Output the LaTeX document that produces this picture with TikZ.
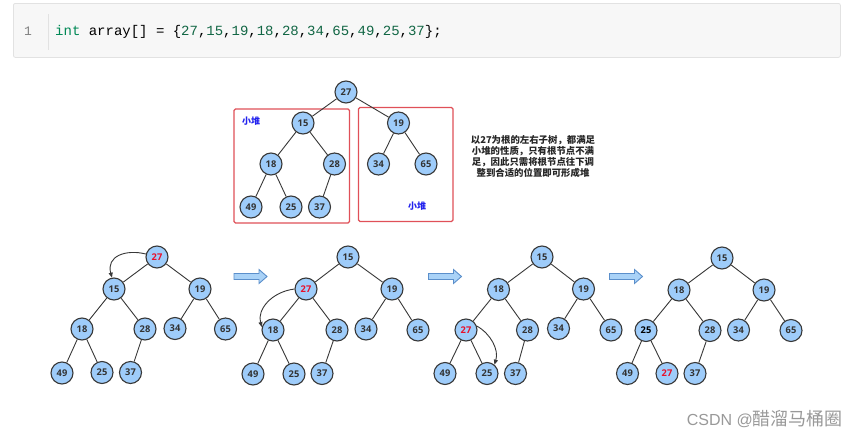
\documentclass[tikz,border=0pt]{standalone}
\usepackage{fontspec}
\setmainfont{Open Sans}
\newfontfamily\cjk{Noto Sans CJK SC}
\newfontfamily\codefont{Liberation Mono}
\newfontfamily\wmfont{Liberation Sans}
\usetikzlibrary{arrows.meta}
\definecolor{nodefill}{HTML}{9ECCFA}
\definecolor{nodeline}{HTML}{383838}
\definecolor{numtxt}{HTML}{333333}
\definecolor{redtxt}{HTML}{E8102A}
\definecolor{boxred}{HTML}{E05058}
\definecolor{lblblue}{HTML}{2222EE}
\definecolor{arrfill}{HTML}{A9D2F7}
\definecolor{arrline}{HTML}{5B8FCB}
\definecolor{codebg}{HTML}{F7F7F7}
\definecolor{codeline}{HTML}{E2E2E2}
\definecolor{kwgreen}{HTML}{008855}
\definecolor{numgreen}{HTML}{116644}
\tikzset{
  nd/.style={circle,draw=nodeline,line width=1.1pt,fill=nodefill,minimum size=22pt,inner sep=0pt,
    font=\fontsize{9.3}{9.3}\selectfont\bfseries,text=numtxt},
  rd/.style={nd,text=redtxt},
  bk/.style={nd,text=black},
  ed/.style={draw=nodeline,line width=0.9pt},
  cur/.style={draw=nodeline,line width=0.9pt,-{Triangle[length=5pt,width=4pt]}},
  redbox/.style={draw=boxred,line width=1.2pt,rounded corners=1.5pt},
  lbl/.style={text=lblblue,font=\cjk\fontsize{9}{9}\selectfont\bfseries},
  blockarr/.style={draw=arrline,fill=arrfill,line width=0.9pt,line join=miter},
}
\begin{document}
\begin{tikzpicture}[x=1pt,y=-1pt]
\useasboundingbox[fill=white] (0,0) rectangle (861,439);
% code box
\node[draw=codeline,fill=codebg,rounded corners=2pt,minimum width=827pt,minimum height=54pt,anchor=north west,line width=0.8pt] (codebox) at (13,3) {};
\node[text=gray,font=\codefont\fontsize{13}{13}\selectfont] (ln) at (28,31.5) {1};
\coordinate (vl1) at (48,14);
\coordinate (vl2) at (48,50);
\draw[codeline,line width=0.8pt] (vl1) -- (vl2);
\node[anchor=west,inner sep=0pt,font=\codefont\fontsize{14}{14}\selectfont] (code) at (55,31.5)
 {\textcolor{kwgreen}{int} array[] = \{\textcolor{numgreen}{27},\textcolor{numgreen}{15},\textcolor{numgreen}{19},\textcolor{numgreen}{18},\textcolor{numgreen}{28},\textcolor{numgreen}{34},\textcolor{numgreen}{65},\textcolor{numgreen}{49},\textcolor{numgreen}{25},\textcolor{numgreen}{37}\};};

% top tree with boxes
\draw[redbox] (234,109) rectangle (349.5,223);
\draw[redbox] (358.5,107.5) rectangle (453,221.5);
\node[lbl] (l1) at (251,121.5) {小堆};
\node[lbl] (l2) at (417,206.5) {小堆};
\node[nd] (a1) at (346,92) {27};
\node[nd] (a2) at (303,123) {15};
\node[nd] (a3) at (398.5,123) {19};
\node[nd] (a4) at (271,164) {18};
\node[nd] (a5) at (334.5,164) {28};
\node[nd] (a6) at (378.5,164) {34};
\node[nd] (a7) at (426,164) {65};
\node[nd] (a8) at (251,207) {49};
\node[nd] (a9) at (291,207) {25};
\node[nd] (a10) at (319.5,207) {37};
\node[align=center,font=\cjk\fontsize{9.4}{11.3}\selectfont\bfseries,text=black!85] (note) at (533,156.5)
 {以27为根的左右子树，都满足\\小堆的性质，只有根节点不满\\足，因此只需将根节点往下调\\整到合适的位置即可形成堆};

% tree b
\node[rd] (b1) at (157,257) {27};
\node[nd] (b2) at (114,289) {15};
\node[nd] (b3) at (200,289) {19};
\node[nd] (b4) at (82,329) {18};
\node[nd] (b5) at (145,329) {28};
\node[nd] (b6) at (175,328.5) {34};
\node[nd] (b7) at (225.5,329) {65};
\node[nd] (b8) at (62,373) {49};
\node[nd] (b9) at (102,372.5) {25};
\node[nd] (b10) at (130.5,372.5) {37};
% tree c
\node[nd] (c1) at (348,257) {15};
\node[rd] (c2) at (306,289) {27};
\node[nd] (c3) at (392,289) {19};
\node[nd] (c4) at (273,330) {18};
\node[nd] (c5) at (337,330) {28};
\node[nd] (c6) at (366,329) {34};
\node[nd] (c7) at (418,330) {65};
\node[nd] (c8) at (253,374) {49};
\node[nd] (c9) at (294,374) {25};
\node[nd] (c10) at (322,373.5) {37};
% tree d
\node[nd] (d1) at (542,257) {15};
\node[nd] (d2) at (498.5,289.5) {18};
\node[nd] (d3) at (583.5,289) {19};
\node[rd] (d4) at (466,330) {27};
\node[nd] (d5) at (527.5,330) {28};
\node[nd] (d6) at (558.5,328.5) {34};
\node[nd] (d7) at (611,330) {65};
\node[nd] (d8) at (445,373.5) {49};
\node[nd] (d9) at (487,373.5) {25};
\node[nd] (d10) at (515.5,373.5) {37};
% tree e
\node[nd] (e1) at (722,258) {15};
\node[nd] (e2) at (679,290) {18};
\node[nd] (e3) at (764,290) {19};
\node[bk] (e4) at (646,330.5) {25};
\node[nd] (e5) at (710,330.5) {28};
\node[nd] (e6) at (738.5,330) {34};
\node[nd] (e7) at (791,330.5) {65};
\node[nd] (e8) at (627.5,373.5) {49};
\node[rd] (e9) at (667,373.5) {27};
\node[nd] (e10) at (695,373.5) {37};

\foreach \t in {a,b,c,d,e}{
  \foreach \p/\c in {1/2,1/3,2/4,2/5,3/6,3/7,4/8,4/9,5/10}{
    \draw[ed] (\t\p) -- (\t\c);
  }
}

% curved arrows
\draw[cur] (b1.165) .. controls (126,249) and (106,256) .. (b2.100);
\draw[cur] (c2.180) .. controls (271,292) and (257,310) .. (c4.165);
\draw[cur] (d4.20) .. controls (491,334) and (499,350) .. (d9.50);

% block arrows
\foreach \x in {234,428.5,609.5}{
  \draw[blockarr] (\x,273.5) -- (\x+25,273.5) -- (\x+25,269.5) -- (\x+33,276.5) -- (\x+25,283.5) -- (\x+25,279.5) -- (\x,279.5) -- cycle;
}

% watermark
\node[anchor=east,inner sep=0pt,text=black!40] (wm) at (843,419)
 {\wmfont\fontsize{16}{16}\selectfont CSDN @\cjk\fontsize{18}{18}\selectfont 醋溜马桶圈};
\end{tikzpicture}
\end{document}
